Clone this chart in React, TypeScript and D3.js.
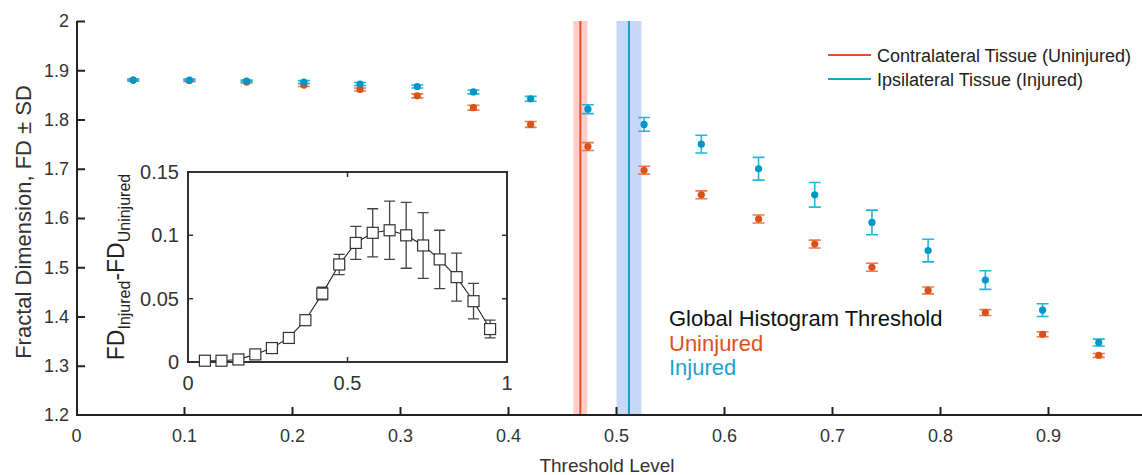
import React, { useEffect, useRef } from 'react'
import * as d3 from 'd3'

// threshold levels (x) shared by main plot and inset
const thresholds = [0.053, 0.105, 0.158, 0.211, 0.263, 0.316, 0.368, 0.421, 0.474, 0.526, 0.579, 0.632, 0.684, 0.737, 0.789, 0.842, 0.895, 0.947]

const uninjuredFD = [1.880, 1.879, 1.876, 1.870, 1.861, 1.848, 1.824, 1.790, 1.745, 1.697, 1.647, 1.598, 1.547, 1.500, 1.453, 1.408, 1.364, 1.321]
const uninjuredSD = [0.002, 0.002, 0.002, 0.003, 0.003, 0.004, 0.005, 0.006, 0.008, 0.008, 0.008, 0.008, 0.008, 0.008, 0.007, 0.006, 0.005, 0.004]

const injuredFD = [1.880, 1.880, 1.878, 1.876, 1.872, 1.867, 1.856, 1.842, 1.821, 1.790, 1.750, 1.700, 1.647, 1.591, 1.534, 1.474, 1.413, 1.347]
const injuredSD = [0.002, 0.002, 0.002, 0.003, 0.003, 0.003, 0.004, 0.005, 0.009, 0.014, 0.018, 0.023, 0.025, 0.025, 0.023, 0.019, 0.013, 0.007]

// inset: FD injured - FD uninjured
const fdDiff = [0.001, 0.001, 0.002, 0.006, 0.011, 0.019, 0.033, 0.054, 0.077, 0.094, 0.102, 0.104, 0.100, 0.092, 0.081, 0.067, 0.048, 0.026]
const fdDiffSD = [0.002, 0.002, 0.002, 0.002, 0.003, 0.003, 0.004, 0.005, 0.008, 0.013, 0.019, 0.023, 0.026, 0.026, 0.023, 0.019, 0.014, 0.007]

// global histogram threshold (uninjured, injured): mean and spread
const globalThreshold = [0.467, 0.512]
const globalThresholdSD = [0.0065, 0.0115]

const xTicks = [0, 0.1, 0.2, 0.3, 0.4, 0.5, 0.6, 0.7, 0.8, 0.9]
const yTicks = [1.2, 1.3, 1.4, 1.5, 1.6, 1.7, 1.8, 1.9, 2]
const insetXTicks = [0, 0.5, 1]
const insetYTicks = [0, 0.05, 0.1, 0.15]

const legendLabels = ['Contralateral Tissue (Uninjured)', 'Ipsilateral Tissue (Injured)']

const ORANGE = '#d95319'
const ORANGE_ERR = '#ee7a48'
const BLUE = '#0096c6'
const BLUE_ERR = '#22b6da'
const FONT = '"Liberation Sans", Arial, Helvetica, sans-serif'

function App() {
  const ref = useRef<SVGSVGElement>(null)

  useEffect(() => {
    const svg = d3.select(ref.current)
    svg.selectAll('*').remove()

    const x = d3.scaleLinear().domain([0, 1]).range([76, 1156])
    const y = d3.scaleLinear().domain([1.2, 2]).range([415, 21])

    // threshold bands + lines
    const bandColors = ['#ffcccc', '#c6d7f7']
    const lineColors = ['#e4511d', '#0aa3cc']
    globalThreshold.forEach((t, i) => {
      svg.append('rect')
        .attr('x', x(t - globalThresholdSD[i]))
        .attr('y', y(2))
        .attr('width', x(t + globalThresholdSD[i]) - x(t - globalThresholdSD[i]))
        .attr('height', y(1.2) - y(2))
        .attr('fill', bandColors[i])
      svg.append('line')
        .attr('x1', x(t)).attr('x2', x(t))
        .attr('y1', y(2)).attr('y2', y(1.2))
        .attr('stroke', lineColors[i])
        .attr('stroke-width', 2)
    })

    // axes
    const xAxis = d3.axisBottom(x).tickValues(xTicks).tickSize(-8).tickPadding(14)
      .tickFormat(d => d3.format('')(d as number))
    const yAxis = d3.axisLeft(y).tickValues(yTicks).tickSize(-8).tickPadding(8)
      .tickFormat(d => d3.format('')(d as number))

    const gx = svg.append('g').attr('transform', 'translate(0,415)').call(xAxis)
    const gy = svg.append('g').attr('transform', 'translate(77,0)').call(yAxis)
    ;[gx, gy].forEach(g => {
      g.select('.domain').attr('stroke', '#222').attr('stroke-width', 2)
      g.selectAll('.tick line').attr('stroke', '#222').attr('stroke-width', 2)
      g.selectAll('.tick text').attr('fill', '#333').style('font-size', '18px').style('font-family', FONT)
    })
    gx.select('.domain').attr('d', 'M76,0H1156')
    gy.select('.domain').attr('d', 'M0,415V21')
    gx.selectAll('.tick').filter(d => d === 0).select('line').remove()
    gy.selectAll('.tick').filter(d => d === 1.2).select('line').remove()

    // error bars + points
    const series = [
      { fd: uninjuredFD, sd: uninjuredSD, color: ORANGE, err: ORANGE_ERR },
      { fd: injuredFD, sd: injuredSD, color: BLUE, err: BLUE_ERR },
    ]
    series.forEach(s => {
      const g = svg.append('g')
      const rows = thresholds.map((t, i) => ({ t, v: s.fd[i], e: s.sd[i] }))
      g.selectAll('.eb').data(rows).enter().append('path')
        .attr('d', d => {
          const cx = x(d.t), y0 = y(d.v - d.e), y1 = y(d.v + d.e)
          return `M${cx},${y0}V${y1}M${cx - 6},${y0}H${cx + 6}M${cx - 6},${y1}H${cx + 6}`
        })
        .attr('fill', 'none')
        .attr('stroke', s.err)
        .attr('stroke-width', 1.6)
      g.selectAll('circle').data(rows).enter().append('circle')
        .attr('cx', d => x(d.t))
        .attr('cy', d => y(d.v))
        .attr('r', 3.6)
        .attr('fill', s.color)
    })

    // legend
    const legendColors = ['#e4511d', '#12a9d0']
    legendLabels.forEach((label, i) => {
      const ly = 55 + i * 24
      svg.append('line')
        .attr('x1', 828).attr('x2', 871).attr('y1', ly).attr('y2', ly)
        .attr('stroke', legendColors[i]).attr('stroke-width', 2)
      svg.append('text')
        .attr('x', 877).attr('y', ly + 6.5)
        .attr('fill', '#222')
        .style('font-size', '18px').style('font-family', FONT)
        .text(label)
    })

    // annotation
    const notes = [
      { text: 'Global Histogram Threshold', color: '#111' },
      { text: 'Uninjured', color: '#e0501a' },
      { text: 'Injured', color: '#1aa3cf' },
    ]
    notes.forEach((n, i) => {
      svg.append('text')
        .attr('x', 669).attr('y', 326 + i * 24.5)
        .attr('fill', n.color)
        .style('font-size', '22px').style('font-family', FONT)
        .text(n.text)
    })

    // axis titles
    svg.append('text')
      .attr('transform', 'translate(31,222) rotate(-90)')
      .attr('text-anchor', 'middle')
      .attr('fill', '#333')
      .style('font-size', '22px').style('font-family', FONT)
      .text('Fractal Dimension, FD \u00b1 SD')
    svg.append('text')
      .attr('x', 607).attr('y', 472)
      .attr('text-anchor', 'middle')
      .attr('fill', '#333')
      .style('font-size', '19px').style('font-family', FONT)
      .text('Threshold Level')

    // ---------- inset ----------
    const ix = d3.scaleLinear().domain([0, 1]).range([188, 507])
    const iy = d3.scaleLinear().domain([0, 0.15]).range([362, 172])
    const inset = svg.append('g')

    inset.append('rect')
      .attr('x', ix(0)).attr('y', iy(0.15))
      .attr('width', ix(1) - ix(0)).attr('height', iy(0) - iy(0.15))
      .attr('fill', 'white')
      .attr('stroke', '#333').attr('stroke-width', 2)

    const tickPath: string[] = []
    insetXTicks.forEach(t => {
      tickPath.push(`M${ix(t)},${iy(0)}v-5M${ix(t)},${iy(0.15)}v5`)
    })
    insetYTicks.forEach(t => {
      tickPath.push(`M${ix(0)},${iy(t)}h5M${ix(1)},${iy(t)}h-5`)
    })
    inset.append('path').attr('d', tickPath.join('')).attr('stroke', '#333').attr('stroke-width', 1.5)

    inset.selectAll('.ixl').data(insetXTicks).enter().append('text')
      .attr('x', d => ix(d)).attr('y', 390)
      .attr('text-anchor', 'middle')
      .attr('fill', '#333')
      .style('font-size', '20px').style('font-family', FONT)
      .text(d => d3.format('')(d))
    inset.selectAll('.iyl').data(insetYTicks).enter().append('text')
      .attr('x', 179).attr('y', d => iy(d) + 7)
      .attr('text-anchor', 'end')
      .attr('fill', '#333')
      .style('font-size', '20px').style('font-family', FONT)
      .text(d => d3.format('')(d))

    const irows = thresholds.map((t, i) => ({ t, v: fdDiff[i], e: fdDiffSD[i] }))
    inset.selectAll('.ieb').data(irows).enter().append('path')
      .attr('d', d => {
        const cx = ix(d.t), y0 = iy(d.v - d.e), y1 = iy(d.v + d.e)
        return `M${cx},${y0}V${y1}M${cx - 5.5},${y0}H${cx + 5.5}M${cx - 5.5},${y1}H${cx + 5.5}`
      })
      .attr('fill', 'none').attr('stroke', '#444').attr('stroke-width', 1.3)

    const line = d3.line<{ t: number; v: number }>().x(d => ix(d.t)).y(d => iy(d.v))
    inset.append('path').datum(irows).attr('d', line)
      .attr('fill', 'none').attr('stroke', '#222').attr('stroke-width', 1.1)

    inset.selectAll('.sq').data(irows).enter().append('rect')
      .attr('x', d => ix(d.t) - 5.5).attr('y', d => iy(d.v) - 5.5)
      .attr('width', 11).attr('height', 11)
      .attr('fill', 'white').attr('stroke', '#333').attr('stroke-width', 1.2)

    const ylab = inset.append('text')
      .attr('transform', 'translate(124,267) rotate(-90)')
      .attr('text-anchor', 'middle')
      .attr('fill', '#222')
      .style('font-size', '23px').style('font-family', FONT)
    ylab.append('tspan').text('FD')
    ylab.append('tspan').attr('dy', 6).style('font-size', '16px').text('Injured')
    ylab.append('tspan').attr('dy', -6).text('-FD')
    ylab.append('tspan').attr('dy', 6).style('font-size', '16px').text('Uninjured')
  }, [])

  return (
    <svg ref={ref} width={1142} height={475}
      style={{ position: 'absolute', left: 0, top: 0, background: 'white' }} />
  )
}

export default App
